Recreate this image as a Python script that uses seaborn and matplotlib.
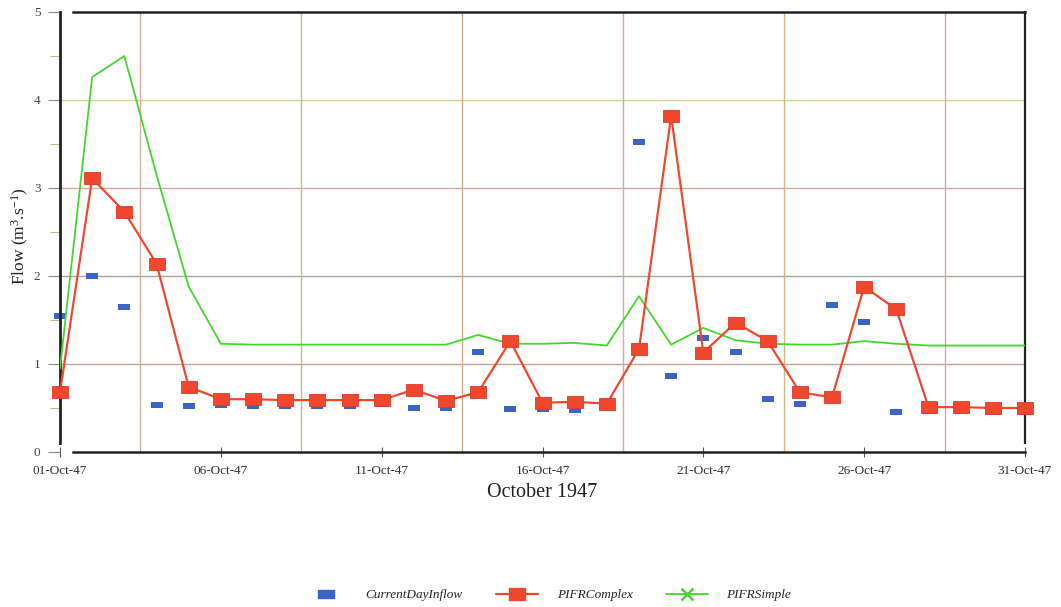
import numpy as np
import pandas as pd
import matplotlib
matplotlib.use("Agg")
import matplotlib.pyplot as plt
import matplotlib.dates as mdates
from matplotlib.path import Path
from matplotlib.lines import Line2D
import seaborn as sns

# Daily flows for October 1947 (m3/s)
dates = pd.date_range("1947-10-01", "1947-10-31", freq="D")

current_day_inflow = [1.55, 2.00, 1.65, 0.53, 0.52, 0.53, 0.52, 0.52, 0.52, 0.52,
                      0.55, 0.50, 0.50, 1.14, 0.49, 0.49, 0.48, 0.55, 3.52, 0.86,
                      1.29, 1.14, 0.60, 0.55, 1.67, 1.48, 0.45, 0.47, 0.47, 0.46,
                      0.46]
pifr_complex = [0.68, 3.11, 2.73, 2.14, 0.74, 0.60, 0.60, 0.59, 0.59, 0.59,
                0.59, 0.71, 0.58, 0.68, 1.26, 0.56, 0.57, 0.55, 1.17, 3.82,
                1.13, 1.47, 1.26, 0.68, 0.62, 1.88, 1.62, 0.51, 0.51, 0.50,
                0.50]
pifr_simple = [0.95, 4.26, 4.50, 3.15, 1.88, 1.23, 1.22, 1.22, 1.22, 1.22,
               1.22, 1.22, 1.22, 1.33, 1.23, 1.23, 1.24, 1.21, 1.77, 1.22,
               1.41, 1.27, 1.23, 1.22, 1.22, 1.26, 1.23, 1.21, 1.21, 1.21,
               1.21]

series_names = ["CurrentDayInflow", "PIFRComplex", "PIFRSimple"]
x_label = "October 1947"
y_label = r"Flow (m$^{3}$.s$^{-1}$)"

df = pd.DataFrame({
    "date": dates,
    "CurrentDayInflow": current_day_inflow,
    "PIFRComplex": pifr_complex,
    "PIFRSimple": pifr_simple,
})

sns.set_theme(style="white")
plt.rcParams["font.family"] = ["Liberation Serif", "DejaVu Serif"]
plt.rcParams["mathtext.fontset"] = "custom"
plt.rcParams["mathtext.rm"] = "Liberation Serif"
plt.rcParams["mathtext.it"] = "Liberation Serif:italic"

blue = "#3d63c6"
red = "#f2472f"
green = "#45d630"

# Wide rectangular markers
wide_rect = Path([(-1, -0.5), (1, -0.5), (1, 0.5), (-1, 0.5), (-1, -0.5)],
                 [Path.MOVETO, Path.LINETO, Path.LINETO, Path.LINETO, Path.CLOSEPOLY])
box_rect = Path([(-1, -0.72), (1, -0.72), (1, 0.72), (-1, 0.72), (-1, -0.72)],
                [Path.MOVETO, Path.LINETO, Path.LINETO, Path.LINETO, Path.CLOSEPOLY])

fig = plt.figure(figsize=(10.61, 6.07), dpi=100)
ax = fig.add_axes([60 / 1061, 1 - 452 / 607, (1025 - 60) / 1061, (452 - 12) / 607])

start = pd.Timestamp("1947-10-01")
end = pd.Timestamp("1947-10-31")
start_num = mdates.date2num(start)
end_num = mdates.date2num(end)

# Gridlines: horizontal at whole units, vertical midway between labelled dates
hgrid_colors = {1: "#c4a49a", 2: "#aaa49e", 3: "#d8aaaa", 4: "#d9cf98"}
for yv, c in hgrid_colors.items():
    ax.axhline(yv, color=c, lw=1.0, zorder=0)
vgrid_colors = ["#dcaaa2", "#cbb597", "#cdaf8c", "#d8aaa2", "#d6b67c", "#dca6ae"]
for i, c in enumerate(vgrid_colors):
    ax.axvline(start_num + 2.5 + 5 * i, color=c, lw=1.0, zorder=0)

sns.lineplot(data=df, x="date", y="PIFRSimple", ax=ax, color=green, lw=1.3,
             zorder=3)
sns.lineplot(data=df, x="date", y="PIFRComplex", ax=ax, color=red, lw=1.6,
             marker=box_rect, markersize=11.5, markerfacecolor=red,
             markeredgecolor="#e03a26", markeredgewidth=0.6, zorder=4,
             clip_on=False)
sns.scatterplot(data=df, x="date", y="CurrentDayInflow", ax=ax, color=blue,
                marker=wide_rect, s=72, linewidth=0, zorder=2, clip_on=False)

ax.set_xlim(start_num, end_num)
ax.set_ylim(0, 5)

ax.xaxis.set_major_locator(mdates.DayLocator(bymonthday=[1, 6, 11, 16, 21, 26, 31]))
ax.xaxis.set_major_formatter(mdates.DateFormatter("%d-%b-%y"))
ax.set_yticks([0, 1, 2, 3, 4, 5])
ax.set_yticks(np.arange(0.5, 5, 1.0), minor=True)
ax.tick_params(axis="x", which="major", direction="inout", length=7, width=0.8,
               color="#555555", labelsize=9.5, labelcolor="#333333", pad=6,
               bottom=True)
ax.tick_params(axis="y", which="major", direction="out", length=9, width=0.8,
               color="#888888", labelsize=9.5, labelcolor="#444444", pad=5,
               left=True)
ax.tick_params(axis="y", which="minor", direction="out", length=7, width=0.8,
               color="#c8b890", left=True)

ax.set_xlabel(x_label, fontsize=14.5, color="#222222", labelpad=4)
ax.set_ylabel(y_label, fontsize=12.5, color="#222222")
ax.yaxis.set_label_coords(-29 / 965, 0.49)

for side in ["left", "right", "top", "bottom"]:
    ax.spines[side].set_visible(True)
    ax.spines[side].set_color("#222222")
ax.spines["left"].set_linewidth(2.0)
ax.spines["left"].set_bounds(0.1, 5)
ax.spines["right"].set_linewidth(1.6)
ax.spines["right"].set_bounds(0.1, 5)
ax.spines["top"].set_linewidth(1.8)
ax.spines["top"].set_bounds(start_num + 0.4, end_num)
ax.spines["bottom"].set_linewidth(1.8)
ax.spines["bottom"].set_bounds(start_num + 0.4, end_num)

handles = [
    Line2D([], [], ls="none", marker=wide_rect, markersize=11, color=blue),
    Line2D([], [], color=red, lw=1.6, marker=box_rect, markersize=12,
           markerfacecolor=red, markeredgecolor=red),
    Line2D([], [], color=green, lw=1.3, marker="x", markersize=8,
           markeredgewidth=1.8),
]
fig.legend(handles, series_names, loc="center", ncol=3,
           bbox_to_anchor=(548 / 1061, 1 - 595 / 607), frameon=False,
           prop={"family": "Liberation Serif", "style": "italic", "size": 9.5},
           handlelength=3.2, columnspacing=2.5, handletextpad=1.4)

fig.savefig("out.png", dpi=100)
